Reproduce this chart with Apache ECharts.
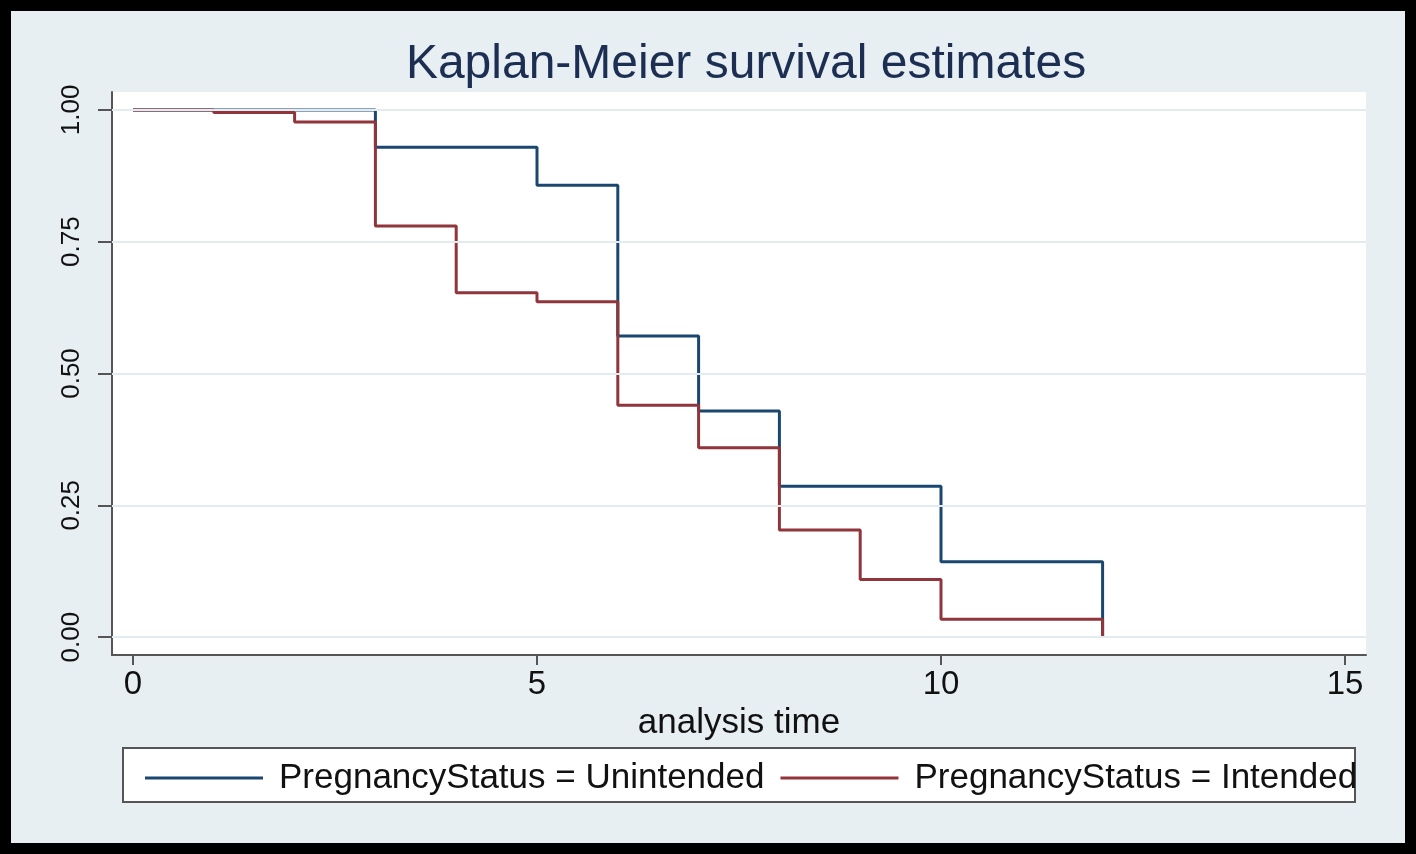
<!DOCTYPE html>
<html>
<head>
<meta charset="utf-8">
<script src="https://cdn.jsdelivr.net/npm/echarts@6/dist/echarts.min.js"></script>
<style>
html,body{margin:0;padding:0;background:#000;}
#chart{width:1416px;height:854px;}
</style>
</head>
<body>
<div id="chart"></div>
<script>
const chartTitle = 'Kaplan-Meier survival estimates';
const xAxisName = 'analysis time';
const seriesNames = ['PregnancyStatus = Unintended', 'PregnancyStatus = Intended'];
const xTicks = [0, 5, 10, 15];
const yTicks = [0, 0.25, 0.5, 0.75, 1];

const unintendedTime = [0, 3, 5, 6, 7, 8, 10, 12];
const unintendedSurv = [1, 0.929, 0.857, 0.571, 0.429, 0.286, 0.143, 0];
const intendedTime = [0, 1, 2, 3, 4, 5, 6, 7, 8, 9, 10, 12];
const intendedSurv = [1, 0.995, 0.977, 0.780, 0.653, 0.636, 0.440, 0.359, 0.203, 0.109, 0.034, 0];

const zip = (a, b) => a.map((v, i) => [v, b[i]]);
const FONT = '"Liberation Sans", Arial, sans-serif';
const BLUE = '#1a476f';
const RED = '#90353b';

const chart = echarts.init(document.getElementById('chart'), null, {renderer: 'canvas'});
chart.setOption({
  animation: false,
  backgroundColor: '#e8eff3',
  title: {
    text: chartTitle,
    left: 741, top: 36, textAlign: 'center',
    textStyle: {fontFamily: FONT, fontSize: 48, fontWeight: 'normal', color: '#1c2f52'}
  },
  grid: {
    left: 112, right: 50, top: 92, bottom: 199,
    show: true, backgroundColor: '#ffffff', borderWidth: 0
  },
  xAxis: {
    type: 'value', min: -0.26, max: 15.26,
    name: xAxisName, nameLocation: 'middle', nameGap: 41,
    nameTextStyle: {fontFamily: FONT, fontSize: 35, color: '#111'},
    axisLine: {onZero: false, lineStyle: {color: '#555', width: 2}},
    axisTick: {show: true, customValues: xTicks, length: 10, lineStyle: {color: '#555', width: 2}},
    axisLabel: {customValues: xTicks, margin: 13, fontFamily: FONT, fontSize: 33, color: '#111'},
    splitLine: {show: false}
  },
  yAxis: {
    type: 'value', min: -0.034, max: 1.034,
    axisLine: {show: true, onZero: false, lineStyle: {color: '#555', width: 2}},
    axisTick: {show: true, customValues: yTicks, length: 14, lineStyle: {color: '#555', width: 2}},
    axisLabel: {customValues: yTicks, rotate: 90, margin: 27, fontFamily: FONT, fontSize: 26, color: '#111',
      formatter: v => v.toFixed(2)},
    splitLine: {show: false}
  },
  legend: {
    data: seriesNames,
    left: 140, top: 753, orient: 'horizontal',
    icon: 'rect', itemWidth: 118, itemHeight: 3, itemGap: 16,
    textStyle: {fontFamily: FONT, fontSize: 35, color: '#111', padding: [0, 0, 0, 11], lineHeight: 40}
  },
  graphic: [
    {type: 'rect', z: -1, shape: {x: 123, y: 748, width: 1232, height: 54},
      style: {fill: '#ffffff', stroke: '#555', lineWidth: 2}},
    {type: 'rect', z: 100, silent: true, shape: {x: 0, y: 0, width: 1416, height: 854},
      style: {fill: 'none', stroke: '#000', lineWidth: 22}}
  ],
  series: [
    {
      type: 'line', name: '_grid', data: [], z: 1, silent: true,
      markLine: {silent: true, symbol: 'none', label: {show: false},
        lineStyle: {color: '#e3eaf0', width: 2, type: 'solid'},
        data: yTicks.map(v => ({yAxis: v}))}
    },
    {
      type: 'line', name: seriesNames[0], step: 'end', showSymbol: false, z: 3,
      color: BLUE, lineStyle: {color: BLUE, width: 3},
      data: zip(unintendedTime, unintendedSurv)
    },
    {
      type: 'line', name: seriesNames[1], step: 'end', showSymbol: false, z: 4,
      color: RED, lineStyle: {color: RED, width: 3},
      data: zip(intendedTime, intendedSurv)
    }
  ]
});
</script>
</body>
</html>
